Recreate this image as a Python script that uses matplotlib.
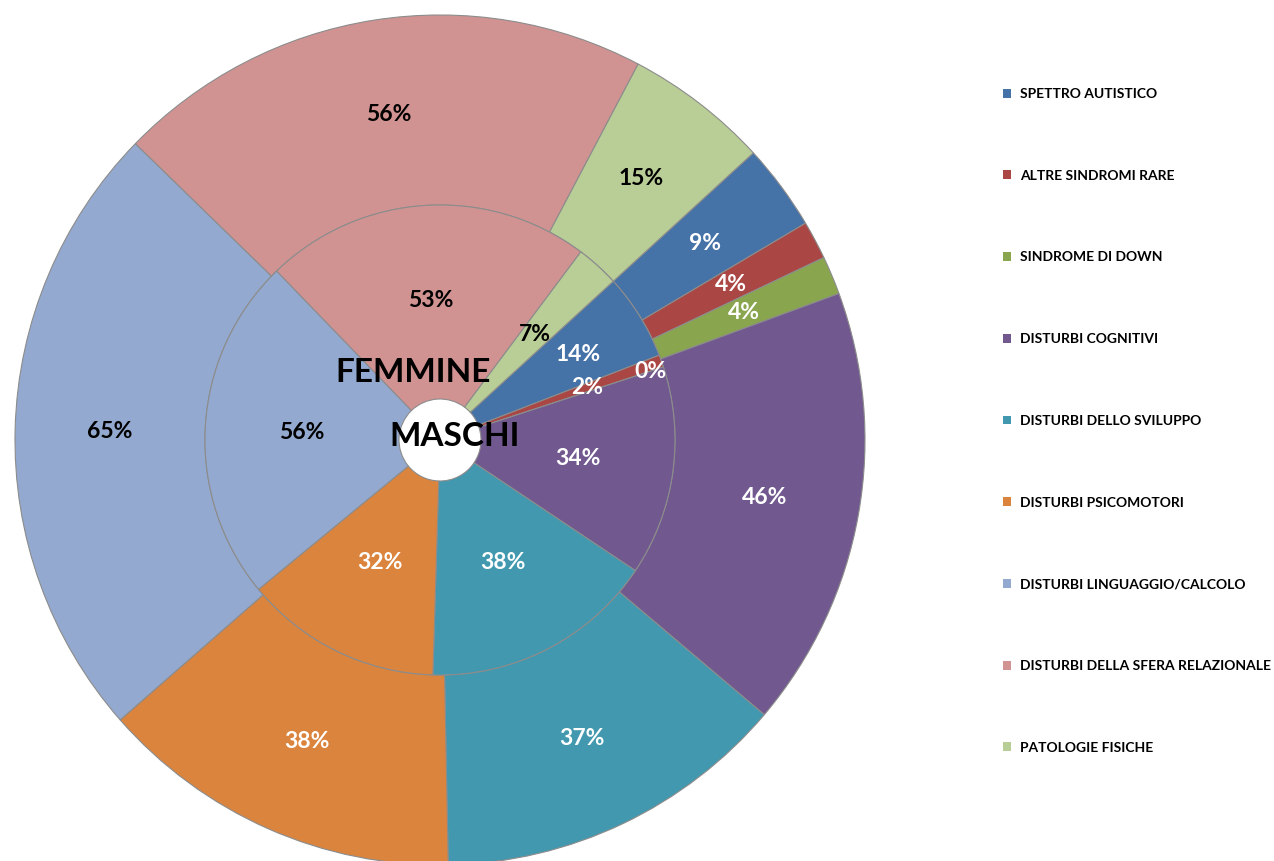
import numpy as np
import matplotlib.pyplot as plt
from matplotlib.patches import Patch

plt.rcParams['font.family'] = ['Lato', 'DejaVu Sans']

categorie = ['SPETTRO AUTISTICO', 'ALTRE SINDROMI RARE', 'SINDROME DI DOWN',
             'DISTURBI COGNITIVI', 'DISTURBI DELLO SVILUPPO', 'DISTURBI PSICOMOTORI',
             'DISTURBI LINGUAGGIO/CALCOLO', 'DISTURBI DELLA SFERA RELAZIONALE',
             'PATOLOGIE FISICHE']
# anello esterno e anello interno (percentuali)
esterno = [9, 4, 4, 46, 37, 38, 65, 56, 15]
interno = [14, 2, 0, 34, 38, 32, 56, 53, 7]

colori = ['#4572A7', '#AA4643', '#89A54E', '#71588F', '#4198AF', '#DB843D',
          '#93A9CF', '#D19392', '#B9CD96']
colori_testo = ['white', 'white', 'white', 'white', 'white', 'white',
                'black', 'black', 'black']

# geometria in pixel
cx, cy = 440, 861 - 440
r_est, r_mid, r_buco = 425, 235, 41
start = 42.5
r_etic_est = [330] * 9
r_etic_int = [163, 156, 221, 139, 138, 136, 138, 140, 142]

fig = plt.figure(figsize=(12.74, 8.61), dpi=100)
ax = fig.add_axes([0, 0, 1, 1])

bordo = dict(edgecolor='#8c8c8c', linewidth=0.8)
wedges, _ = ax.pie(esterno, colors=colori, radius=r_est, center=(cx, cy),
                   startangle=start, counterclock=False,
                   wedgeprops=dict(width=r_est - r_mid, **bordo))
ax.pie(interno, colors=colori, radius=r_mid, center=(cx, cy),
       startangle=start, counterclock=False,
       wedgeprops=dict(width=r_mid - r_buco, **bordo))


def etichette(valori, raggi):
    v = np.array(valori, dtype=float)
    fine = start - np.cumsum(v) / v.sum() * 360
    inizio = fine + v / v.sum() * 360
    medio = np.deg2rad((inizio + fine) / 2)
    for val, a, r, c in zip(valori, medio, raggi, colori_testo):
        ax.text(cx + r * np.cos(a), cy + r * np.sin(a), f'{val}%',
                ha='center', va='center', fontsize=16.5, fontweight='bold', color=c)


etichette(esterno, r_etic_est)
etichette(interno, r_etic_int)

ax.text(413, 861 - 372, 'FEMMINE', ha='center', va='center',
        fontsize=24, fontweight='bold', color='black')
ax.text(455, 861 - 437, 'MASCHI', ha='center', va='center',
        fontsize=24, fontweight='bold', color='black')

maniglie = [Patch(facecolor=c, edgecolor='none') for c in colori]
fig.legend(maniglie, categorie, loc='upper left', bbox_to_anchor=(1003 / 1274, 1 - 88 / 861),
           frameon=False, prop=dict(weight='bold', size=10),
           handlelength=0.6, handleheight=0.6, handletextpad=0.6,
           labelspacing=5.02, borderaxespad=0, borderpad=0)

ax.set_xlim(0, 1274)
ax.set_ylim(0, 861)
ax.set_aspect('equal')
ax.axis('off')

fig.savefig('out.png', dpi=100)
